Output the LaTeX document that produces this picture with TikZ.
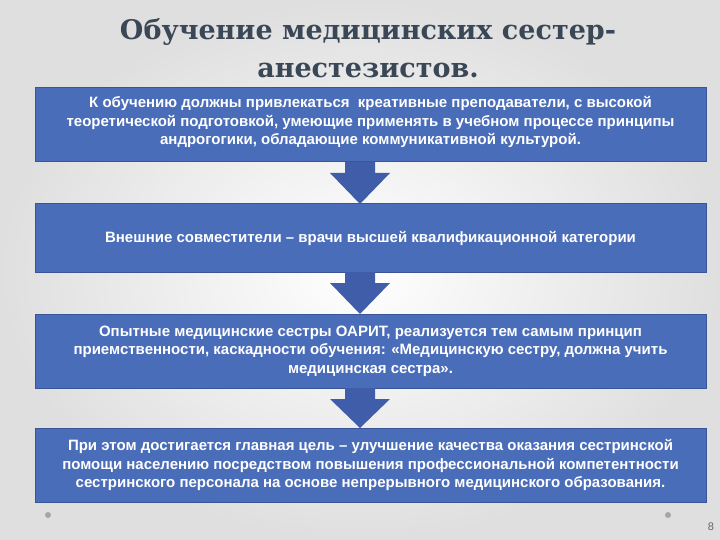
\documentclass[tikz,border=0pt]{standalone}
\usepackage{fontspec}
\setmainfont{Liberation Sans}
\newfontfamily\titlefont{DejaVu Serif}
\begin{document}
\begin{tikzpicture}[x=1pt,y=-1pt,
  box/.style={fill=boxblue,draw=boxedge,line width=1pt},
  btext/.style={text=white,font=\bfseries\fontsize{15}{18.5}\selectfont,align=center},
  arr/.style={fill=arrblue,draw=none},
  dot/.style={circle,fill=gray!70,inner sep=0pt,minimum size=6pt}]
\definecolor{boxblue}{HTML}{4A6DBA}
\definecolor{boxedge}{HTML}{3A5597}
\definecolor{arrblue}{HTML}{3F5DA8}
\definecolor{titlec}{HTML}{3A4756}
\useasboundingbox (0,0) rectangle (720,540);
\shade[inner color=white,outer color=gray!25] (0,0) rectangle (720,540);
\node[text=titlec,font=\titlefont\bfseries\fontsize{27}{38}\selectfont,align=center] (title) at (368,48) {Обучение медицинских сестер-\\анестезистов.};
\foreach \n/\t/\b in {b1/88/162,b2/204/272,b3/314/388,b4/428/502}{
  \draw[box] (35,\t) rectangle (706,\b);
  \coordinate (\n) at (370.5,{(\t+\b)/2});
}
\foreach \a/\t/\b in {1/162/204,2/272/314,3/388/428}{
  \fill[arr] (345,\t) -- (375,\t) -- (375,{\t+11}) -- (390,{\t+11}) -- (360,\b) -- (330,{\t+11}) -- (345,{\t+11}) -- cycle;
}
\node[btext] (t1) at (370.5,122) {К обучению должны привлекаться \ креативные преподаватели, с высокой\\ теоретической подготовкой, умеющие применять в учебном процессе принципы\\ андрогогики, обладающие коммуникативной культурой.};
\node[btext] (t2) at (b2) {Внешние совместители – врачи высшей квалификационной категории};
\node[btext] (t3) at (b3) {Опытные медицинские сестры ОАРИТ, реализуется тем самым принцип\\ приемственности, каскадности обучения: «Медицинскую сестру, должна учить\\ медицинская сестра».};
\node[btext] (t4) at (b4) {При этом достигается главная цель – улучшение качества оказания сестринской\\ помощи населению посредством повышения профессиональной компетентности\\ сестринского персонала на основе непрерывного медицинского образования.};
\node[dot] (d1) at (48,515) {};
\node[dot] (d2) at (668,515) {};
\node[text=gray!80!black,font=\fontsize{11}{12}\selectfont] (pg) at (711,527) {8};
\end{tikzpicture}
\end{document}
